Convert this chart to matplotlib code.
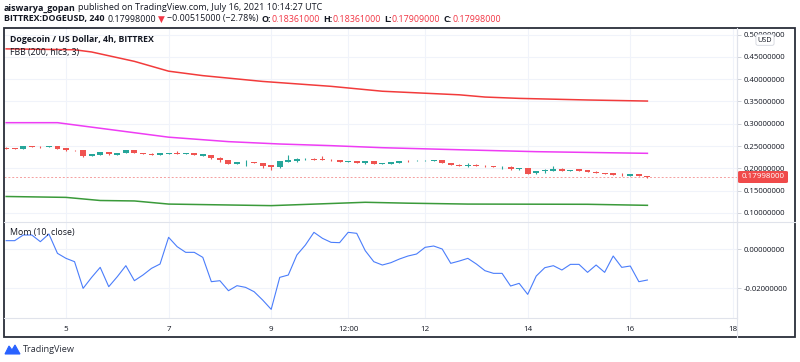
import numpy as np
import matplotlib.pyplot as plt
import matplotlib.patches as mpatches
from matplotlib.lines import Line2D

plt.rcParams['font.family'] = ['Open Sans', 'DejaVu Sans']

W, H = 800, 362

# 4h candles, first one opens July 3 20:00 (x axis is day of July)
START_DAY = 3 + 20 / 24

opens = [0.2465, 0.2450, 0.2443, 0.2500, 0.2487, 0.2480, 0.2494, 0.2450, 0.2413, 0.2413,
         0.2286, 0.2308, 0.2368, 0.2308, 0.2353, 0.2413, 0.2345, 0.2330, 0.2310, 0.2330,
         0.2345, 0.2330, 0.2345, 0.2286, 0.2300, 0.2241, 0.2188, 0.2106, 0.2136, 0.2143,
         0.2121, 0.2069, 0.2024, 0.2143, 0.2173, 0.2203, 0.2218, 0.2218, 0.2196, 0.2188,
         0.2151, 0.2166, 0.2121, 0.2166, 0.2106, 0.2106, 0.2128, 0.2166, 0.2166, 0.2158,
         0.2166, 0.2188, 0.2121, 0.2084, 0.2054, 0.2084, 0.2061, 0.2054, 0.2024, 0.2039,
         0.1979, 0.2009, 0.1889, 0.1934, 0.1949, 0.1994, 0.1949, 0.1979, 0.1957, 0.1927,
         0.1897, 0.1889, 0.1859, 0.1830, 0.1874, 0.18361]
closes = [0.2435, 0.2443, 0.2500, 0.2480, 0.2472, 0.2494, 0.2443, 0.2405, 0.2405, 0.2286,
          0.2323, 0.2368, 0.2315, 0.2345, 0.2413, 0.2353, 0.2330, 0.2310, 0.2338, 0.2345,
          0.2330, 0.2345, 0.2293, 0.2315, 0.2226, 0.2181, 0.2106, 0.2143, 0.2151, 0.2121,
          0.2061, 0.2024, 0.2166, 0.2181, 0.2218, 0.2218, 0.2196, 0.2196, 0.2181, 0.2143,
          0.2158, 0.2128, 0.2166, 0.2106, 0.2121, 0.2143, 0.2166, 0.2158, 0.2173, 0.2173,
          0.2188, 0.2113, 0.2069, 0.2054, 0.2084, 0.2054, 0.2046, 0.2039, 0.2039, 0.1979,
          0.2009, 0.1882, 0.1942, 0.1957, 0.1994, 0.1949, 0.1964, 0.1942, 0.1912, 0.1904,
          0.1882, 0.1859, 0.1852, 0.1874, 0.1837, 0.17998]
highs = [0.2475, 0.2455, 0.2510, 0.2508, 0.2492, 0.2498, 0.2498, 0.2452, 0.2418, 0.2418,
         0.2330, 0.2372, 0.2372, 0.2350, 0.2420, 0.2418, 0.2350, 0.2335, 0.2342, 0.2350,
         0.2383, 0.2350, 0.2350, 0.2320, 0.2305, 0.2245, 0.2192, 0.2150, 0.2188, 0.2148,
         0.2125, 0.2072, 0.2170, 0.2300, 0.2241, 0.2222, 0.2222, 0.2278, 0.2200, 0.2192,
         0.2162, 0.2170, 0.2170, 0.2170, 0.2125, 0.2147, 0.2170, 0.2180, 0.2178, 0.2177,
         0.2192, 0.2192, 0.2125, 0.2088, 0.2121, 0.2088, 0.2065, 0.2060, 0.2054, 0.2043,
         0.2013, 0.2013, 0.1946, 0.1979, 0.2054, 0.1998, 0.1968, 0.1983, 0.1961, 0.1931,
         0.1901, 0.1893, 0.1897, 0.1878, 0.1882, 0.18361]
lows = [0.2425, 0.2440, 0.2440, 0.2475, 0.2465, 0.2475, 0.2440, 0.2400, 0.2400, 0.2263,
        0.2270, 0.2300, 0.2310, 0.2305, 0.2350, 0.2345, 0.2325, 0.2305, 0.2305, 0.2325,
        0.2325, 0.2328, 0.2290, 0.2280, 0.2215, 0.2136, 0.2100, 0.2100, 0.2061, 0.2115,
        0.2016, 0.1964, 0.2020, 0.2140, 0.2136, 0.2198, 0.2190, 0.2190, 0.2175, 0.2140,
        0.2146, 0.2124, 0.2091, 0.2100, 0.2102, 0.2102, 0.2124, 0.2150, 0.2160, 0.2155,
        0.2162, 0.2110, 0.2065, 0.2050, 0.2024, 0.2050, 0.2042, 0.2035, 0.1979, 0.1975,
        0.1975, 0.1875, 0.1885, 0.1889, 0.1945, 0.1945, 0.1945, 0.1938, 0.1908, 0.1900,
        0.1878, 0.1855, 0.1822, 0.1820, 0.1830, 0.17909]

# Fibonacci Bollinger Bands, read at a few candle indices
fbb_upper_idx = [0, 8, 10, 15, 19, 23, 30, 38, 44, 53, 56, 60, 68, 75]
fbb_upper = [0.468, 0.466, 0.461, 0.440, 0.418, 0.408, 0.395, 0.384, 0.373, 0.365,
             0.360, 0.357, 0.3534, 0.351]
fbb_mid_idx = [0, 6, 9, 15, 19, 26, 32, 38, 44, 54, 62, 75]
fbb_mid = [0.3025, 0.3025, 0.295, 0.280, 0.270, 0.260, 0.2547, 0.251, 0.2464, 0.2413,
           0.2375, 0.2338]
fbb_lower_idx = [0, 7, 11, 15, 19, 31, 42, 47, 54, 68, 75]
fbb_lower = [0.137, 0.135, 0.128, 0.127, 0.120, 0.1165, 0.124, 0.122, 0.120, 0.1195, 0.1172]

# Momentum (10, close), one value per candle
mom = [0.00428, 0.00428, 0.00718, 0.00718, 0.00376, 0.00770, -0.00222, -0.00479, -0.00650, -0.02018,
       -0.01454, -0.00941, -0.01932, -0.01419, -0.00855, -0.01625, -0.01334, -0.00992, -0.00770, 0.00599,
       0.00120, -0.00171, -0.00171, -0.00428, -0.01676, -0.01625, -0.02138, -0.01881, -0.01967, -0.02189,
       -0.02616, -0.03095, -0.01454, -0.01334, -0.00308, 0.00205, 0.00855, 0.00547, 0.00342, 0.00325,
       0.00855, 0.00804, -0.00086, -0.00650, -0.00821, -0.00701, -0.00513, -0.00359, -0.00257, 0.00086,
       0.00154, 0.0, -0.00735, -0.00616, -0.00479, -0.00770, -0.01112, -0.01248, -0.01248, -0.01898,
       -0.01761, -0.02326, -0.01385, -0.00958, -0.00855, -0.01077, -0.00787, -0.00787, -0.01197, -0.00821,
       -0.01197, -0.00359, -0.00941, -0.00872, -0.01676, -0.01590]

price_ticks = [0.10, 0.15, 0.20, 0.25, 0.30, 0.35, 0.40, 0.45, 0.50]
mom_ticks = [0.0, -0.02]
day_ticks = [5, 7, 9, 10.5, 12, 14, 16, 18]
day_labels = ['5', '7', '9', '12:00', '12', '14', '16', '18']
last_price = 0.17998

UP, DOWN = '#26a69a', '#ef5350'
GRID = '#f0f3fa'
TXT = '#131722'


def fx(px):
    return px / W


def fy(py):
    return 1 - py / H


fig = plt.figure(figsize=(W / 100, H / 100), dpi=100)
fig.patch.set_facecolor('white')

ax = fig.add_axes([fx(4), fy(222), fx(737) - fx(4), fy(28) - fy(222)])
axm = fig.add_axes([fx(4), fy(318), fx(737) - fx(4), fy(222) - fy(318)], sharex=ax)

t = START_DAY + np.arange(len(opens)) / 6
o = np.array(opens)
c = np.array(closes)
cols = np.where(c >= o, UP, DOWN)

ax.vlines(t, lows, highs, colors=cols, lw=0.8, zorder=3)
body_h = np.maximum(np.abs(c - o), 0.0006)
ax.bar(t, body_h, bottom=np.minimum(o, c), width=0.115, color=cols, zorder=4, lw=0)

ax.plot(t[fbb_upper_idx], fbb_upper, color='#f23b3b', lw=1.1, zorder=2)
ax.plot(t[fbb_mid_idx], fbb_mid, color='#ee3cf4', lw=1.1, zorder=2)
ax.plot(t[fbb_lower_idx], fbb_lower, color='#3a9a3a', lw=1.1, zorder=2)
ax.axhline(last_price, color='#f5a0a0', lw=0.7, ls=(0, (2, 2)), zorder=1)

axm.plot(t, mom, color='#4a7dfb', lw=0.8)

ax.set_xlim(3.7914, 18.080)
ax.set_ylim(0.0798, 0.5148)
axm.set_ylim(-0.03538, 0.01385)

for a in (ax, axm):
    a.set_facecolor('white')
    a.grid(True, color=GRID, lw=0.8)
    a.set_axisbelow(True)
    a.yaxis.tick_right()
    a.tick_params(axis='y', length=3, width=0.6, color='#c8cbd3', pad=2,
                  labelsize=5.6, labelcolor=TXT)
    for s in ('top', 'bottom', 'left'):
        a.spines[s].set_visible(False)
    a.spines['right'].set_color('#e0e3eb')
    a.spines['right'].set_linewidth(0.8)

ax.set_xticks(day_ticks)
ax.tick_params(axis='x', length=0, labelbottom=False)
axm.set_xticks(day_ticks)
axm.set_xticklabels(day_labels)
axm.tick_params(axis='x', length=0, pad=5.5, labelsize=5.8, labelcolor=TXT)

ax.set_yticks(price_ticks)
ax.set_yticklabels([f'{v:.8f}' for v in price_ticks])
axm.set_yticks(mom_ticks)
axm.set_yticklabels([f'{v:.8f}' for v in mom_ticks])

# separators and outer frame
fig.add_artist(Line2D([fx(4), fx(795)], [fy(222), fy(222)], color='#e0e3eb', lw=0.8))
fig.add_artist(Line2D([fx(4), fx(737)], [fy(318), fy(318)], color='#e0e3eb', lw=0.8))
fig.add_artist(Line2D([fx(737), fx(737)], [fy(28), fy(337)], color='#e0e3eb', lw=0.8))
fig.add_artist(mpatches.Rectangle((fx(4), fy(337)), fx(795) - fx(4), fy(28) - fy(337),
                                  transform=fig.transFigure, fill=False,
                                  edgecolor='#2a2e39', lw=1.3))

# last price tag
fig.add_artist(mpatches.FancyBboxPatch((fx(738), fy(183)), fx(788) - fx(738), fy(171) - fy(183),
                                       boxstyle='round,pad=0,rounding_size=0.003',
                                       transform=fig.transFigure, facecolor='#f04a4a',
                                       edgecolor='none'))
fig.text(fx(763), fy(177), f'{last_price:.8f}', color='white', fontsize=5.8,
         ha='center', va='center')

# USD badge (sits over the top price label, as in the source)
fig.text(fx(765), fy(40), 'USD', fontsize=5.2, color=TXT, ha='center', va='center',
         bbox=dict(boxstyle='round,pad=0.25', fc='white', ec='#d1d4dc', lw=0.6))

# legends in panes
fig.text(fx(10), fy(40), 'Dogecoin / US Dollar, 4h, BITTREX', fontsize=6.3,
         fontweight='bold', color=TXT, va='center')
fig.text(fx(10), fy(52), 'FBB (200, hlc3, 3)', fontsize=6.3, color=TXT, va='center')
fig.text(fx(10), fy(233), 'Mom (10, close)', fontsize=6.3, color=TXT, va='center')

renderer = fig.canvas.get_renderer()


def put_row(x_px, y_px, parts, size):
    x = x_px
    for text, weight, color, gap in parts:
        tx = fig.text(fx(x), fy(y_px), text, fontsize=size, fontweight=weight,
                      color=color, va='center', ha='left')
        bb = tx.get_window_extent(renderer)
        x = bb.x1 + gap


RED = '#f23645'
put_row(4, 8, [('aiswarya_gopan', 'bold', TXT, 2.5),
               ('published on TradingView.com, July 16, 2021 10:14:27 UTC', 'normal', TXT, 0)],
        6.5)
put_row(4, 19, [('BITTREX:DOGEUSD, 240', 'bold', TXT, 3),
                ('0.17998000', 'normal', TXT, 2),
                ('\u25bc', 'normal', RED, 2),
                ('\u22120.00515000 (\u22122.78%)', 'normal', TXT, 3),
                ('O:', 'bold', TXT, 0.5), ('0.18361000', 'normal', RED, 3),
                ('H:', 'bold', TXT, 0.5), ('0.18361000', 'normal', RED, 3),
                ('L:', 'bold', TXT, 0.5), ('0.17909000', 'normal', RED, 3),
                ('C:', 'bold', TXT, 0.5), ('0.17998000', 'normal', RED, 0)],
        6.4)

# TradingView footer
logo = mpatches.Polygon([(fx(5), fy(354)), (fx(9), fy(346)), (fx(12), fy(350)),
                         (fx(15), fy(345)), (fx(20), fy(354))],
                        closed=True, transform=fig.transFigure, facecolor='#2962ff',
                        edgecolor='#2962ff', lw=0.8)
fig.add_artist(logo)
fig.text(fx(23), fy(350), 'TradingView', fontsize=6.6, color='#2a2e39', va='center')

fig.savefig('out.png', dpi=100)
